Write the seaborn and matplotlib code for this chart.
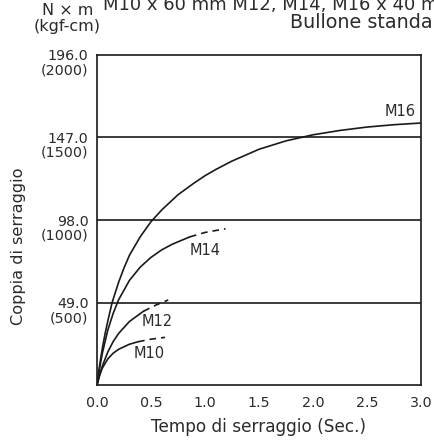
import matplotlib
matplotlib.use("Agg")
import matplotlib.pyplot as plt
import matplotlib.transforms as mtransforms
import seaborn as sns

# tightening torque curves (time in sec, torque in N*m)
m16_time = [0, 0.025, 0.05, 0.075, 0.1, 0.14, 0.2, 0.25, 0.3, 0.4, 0.5, 0.6, 0.75, 0.9, 1.0, 1.1,
            1.25, 1.5, 1.75, 2.0, 2.25, 2.5, 2.75, 3.0]
m16_torque = [0, 12, 22, 30.5, 38, 49, 61, 69.5, 77, 88, 97, 104, 113, 120, 124.3, 128,
              133, 140, 145, 148.6, 151.2, 153.2, 154.6, 155.6]

m14_time = [0, 0.025, 0.05, 0.1, 0.15, 0.2, 0.3, 0.4, 0.5, 0.6, 0.7, 0.86]
m14_torque = [0, 10.4, 19, 32.6, 42.6, 50.6, 62.1, 70, 75.8, 80.3, 83.7, 88]
m14_dash_time = [0.86, 1.0, 1.19]
m14_dash_torque = [88, 90.6, 92.8]

m12_time = [0, 0.025, 0.05, 0.1, 0.15, 0.2, 0.3, 0.43]
m12_torque = [0, 6.2, 11.4, 19.6, 25.8, 30.6, 37.7, 43.8]
m12_dash_time = [0.43, 0.55, 0.66]
m12_dash_torque = [43.8, 47.6, 50.5]

m10_time = [0, 0.025, 0.05, 0.1, 0.15, 0.2, 0.3, 0.38]
m10_torque = [0, 5.9, 10.1, 15.5, 18.9, 21.2, 24.2, 25.7]
m10_dash_time = [0.38, 0.5, 0.63]
m10_dash_torque = [25.7, 27.2, 28.3]

y_ticks = [49, 98, 147, 196]
y_labels = ["49.0\n(500)", "98.0\n(1000)", "147.0\n(1500)", "196.0\n(2000)"]
x_ticks = [0.0, 0.5, 1.0, 1.5, 2.0, 2.5, 3.0]
x_labels = ["0.0", "0.5", "1.0", "1.5", "2.0", "2.5", "3.0"]

sns.set_style("white")
plt.rcParams["font.family"] = ["DejaVu Sans"]
line_col = "#1a1a1a"
text_col = "#2b2b2b"

fig = plt.figure(figsize=(4.34, 4.40), dpi=100)
ax = fig.add_axes([0.2235, 0.125, 0.7465, 0.75])

#gridlines at the torque levels
for v in y_ticks[:-1]:
    ax.axhline(v, color=line_col, lw=1.2, zorder=1)

solid = [(m16_time, m16_torque), (m14_time, m14_torque), (m12_time, m12_torque), (m10_time, m10_torque)]
dashed = [(m14_dash_time, m14_dash_torque), (m12_dash_time, m12_dash_torque), (m10_dash_time, m10_dash_torque)]
for t, v in solid:
    sns.lineplot(x=t, y=v, ax=ax, color=line_col, lw=1.2, sort=False, estimator=None)
for t, v in dashed:
    sns.lineplot(x=t, y=v, ax=ax, color=line_col, lw=1.2, sort=False, estimator=None,
                 linestyle=(0, (4, 3)))

ax.text(2.95, 158, "M16", ha="right", va="bottom", fontsize=10.5, color=text_col)
ax.text(1.0, 80, "M14", ha="center", va="center", fontsize=10.5, color=text_col)
ax.text(0.56, 37.5, "M12", ha="center", va="center", fontsize=10.5, color=text_col)
ax.text(0.48, 19, "M10", ha="center", va="center", fontsize=10.5, color=text_col)

ax.set_xlim(0, 3.0)
ax.set_ylim(0, 196)
ax.set_xticks(x_ticks)
ax.set_xticklabels(x_labels, fontsize=10.3, color=text_col)
ax.set_yticks(y_ticks)
ax.set_yticklabels(y_labels, fontsize=10.3, color=text_col, linespacing=1.0)
ax.tick_params(axis="x", direction="in", length=3, width=1, color=line_col, pad=8)
ax.tick_params(axis="y", direction="out", length=3, width=1, color=line_col, pad=3)

#shift the two-line labels so the first line sits on the tick
off = mtransforms.ScaledTranslation(0, -0.07, fig.dpi_scale_trans)
for lab in ax.get_yticklabels():
    lab.set_transform(lab.get_transform() + off)

for s in ax.spines.values():
    s.set_color(line_col)
    s.set_linewidth(1.2)

ax.set_xlabel("Tempo di serraggio (Sec.)", fontsize=12.2, color=text_col, labelpad=6)
ax.set_ylabel("Coppia di serraggio", fontsize=11.6, color=text_col)
ax.yaxis.set_label_coords(-0.22, 0.42)

fig.text(0.155, 0.966, "N × m", ha="center", va="baseline", fontsize=11.5, color=text_col)
fig.text(0.155, 0.929, "(kgf-cm)", ha="center", va="baseline", fontsize=11.5, color=text_col)
fig.text(0.237, 0.978, "M10 x 60 mm M12, M14, M16 x 40 mm", ha="left", va="baseline", fontsize=13,
         color=text_col)
fig.text(0.668, 0.936, "Bullone standard", ha="left", va="baseline", fontsize=13.8, color=text_col)

fig.savefig("out.png", dpi=100)
